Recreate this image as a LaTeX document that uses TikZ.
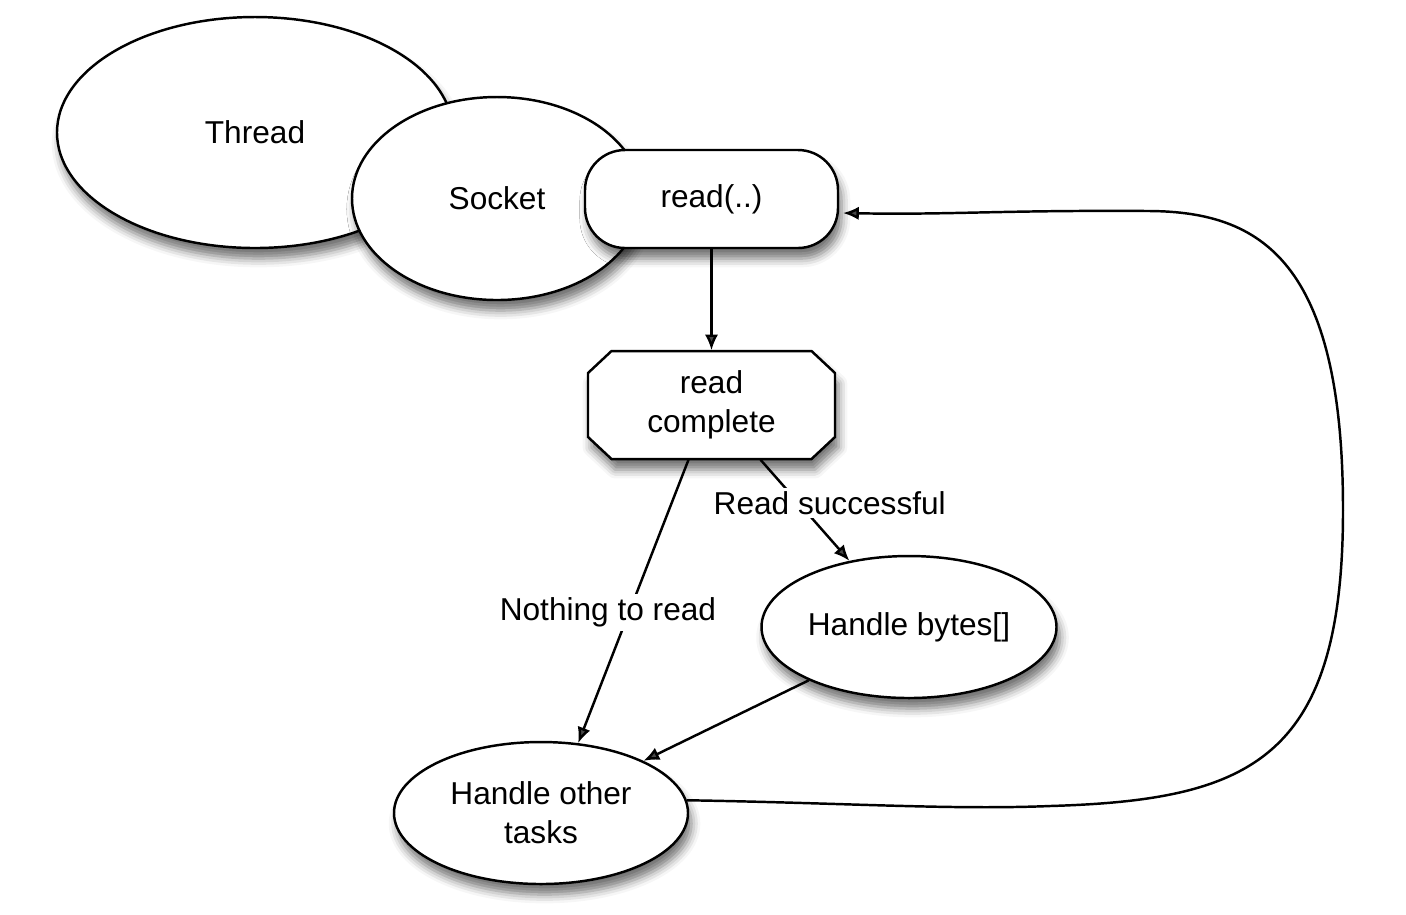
\documentclass[tikz,border=0pt]{standalone}
\usepackage{fontspec}
\setmainfont{Liberation Sans}
\usetikzlibrary{shapes.geometric,arrows.meta,shadows.blur}
\begin{document}
\begin{tikzpicture}[x=1cm,y=1cm,
  font=\fontsize{9}{11.1}\selectfont,
  shd/.style={blur shadow={shadow xshift=1pt,shadow yshift=-3pt,shadow blur radius=2.5pt,shadow opacity=55}},
  ell/.style={ellipse, draw, fill=white, line width=0.7pt, inner sep=0pt, shd, align=center},
  pill/.style={rectangle, rounded corners=0.4cm, draw, fill=white, line width=0.7pt, inner sep=0pt, shd, minimum width=2.53cm, minimum height=0.98cm},
  octobox/.style={rectangle, inner sep=0pt, minimum width=2.47cm, minimum height=1.08cm, align=center},
  octoline/.style={draw, fill=white, line width=0.7pt, shd},
  arr/.style={line width=0.7pt, -{Latex[length=4.5pt,width=3.8pt]}},
  lbl/.style={fill=white, inner sep=1pt}
]
\useasboundingbox (0,0) rectangle (14.06,-9.14);

\node[ell, minimum width=3.96cm, minimum height=2.31cm] (th) at (2.55,-1.325) {Thread};
\node[ell, minimum width=2.90cm, minimum height=2.03cm] (so) at (4.97,-1.985) {Socket};
\node[pill] (rd) at (7.115,-1.99) {read(..)};

% octagon (read complete)
\path[octoline, shift={(7.115,-4.05)}]
  (-1.0,0.54) -- (1.0,0.54) -- (1.235,0.32) -- (1.235,-0.32) -- (1.0,-0.54)
  -- (-1.0,-0.54) -- (-1.235,-0.32) -- (-1.235,0.32) -- cycle;
\node[octobox] (rc) at (7.115,-4.05) {read\\complete};

\node[ell, minimum width=2.95cm, minimum height=1.42cm] (hb) at (9.09,-6.27) {Handle bytes[]};
\node[ell, minimum width=2.94cm, minimum height=1.42cm] (hot) at (5.41,-8.13) {Handle other\\tasks};

\coordinate (rdin) at (8.43,-2.13);

\draw[arr] (rd.south) -- (rc.north);
\draw[arr] ([xshift=-0.23cm]rc.south) -- (hot.62)
  node[lbl, pos=0.54, xshift=-0.21cm] {Nothing to read};
\draw[arr] ([xshift=0.49cm]rc.south) -- (hb.132)
  node[lbl, pos=0.43, xshift=0.31cm] {Read successful};
\draw[arr] (hb.208) -- (hot.27);
\draw[arr] (hot.5) .. controls (8.5,-8.03) and (9.5,-8.10) .. (10.5,-8.06)
  .. controls (12.5,-8.0) and (13.43,-7.6) .. (13.43,-5.1)
  .. controls (13.43,-2.6) and (12.6,-2.12) .. (11.5,-2.11)
  .. controls (10.0,-2.10) and (9.5,-2.15) .. (rdin);
\end{tikzpicture}
\end{document}
